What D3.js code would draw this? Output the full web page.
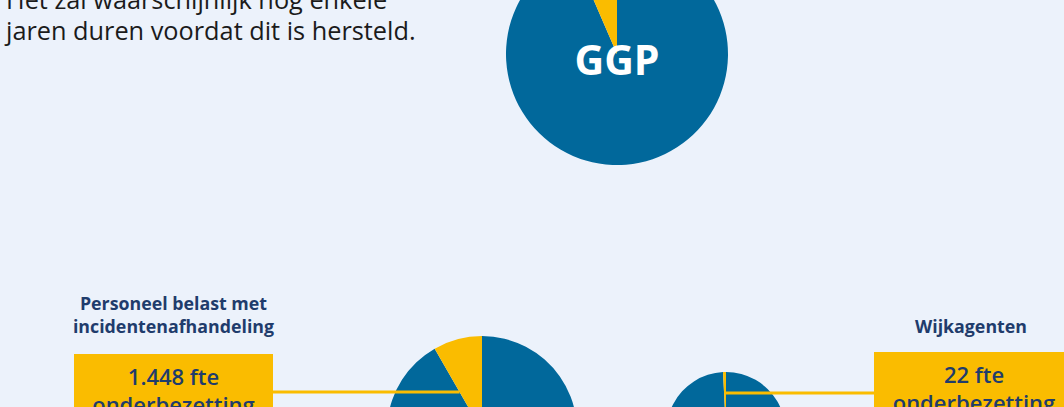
<!DOCTYPE html>
<html lang="nl">
<head>
  <meta charset="UTF-8">
  <title>Onderbezetting GGP</title>
  <style>
    html, body {
      margin: 0;
      background-color: #ecf2fb;
    }
    svg {
      display: block;
      font-family: 'Open Sans', 'Noto Sans', sans-serif;
    }
    .intro {
      font-size: 25.3px;
      fill: #1b1b1b;
    }
    .label {
      font-size: 17.8px;
      font-weight: 700;
      fill: #1f3c6c;
    }
    .box-text {
      font-size: 22px;
      font-weight: 600;
      fill: #1f3c6c;
    }
  </style>
</head>
<body>
  <script src="https://cdnjs.cloudflare.com/ajax/libs/d3/7.8.5/d3.min.js"></script>
  <script>
    // data
    const introLines = ['Het zal waarschijnlijk nog enkele', 'jaren duren voordat dit is hersteld.'];
    const pieNames = ['GGP', 'Personeel belast met incidentenafhandeling', 'Wijkagenten'];
    const bezetting = [93.5, 91.7, 99.2];      // % bezet
    const onderbezetting = [6.5, 8.3, 0.8];    // % onderbezet
    const labelLines = [[], ['Personeel belast met', 'incidentenafhandeling'], ['Wijkagenten']];
    const boxLines = [[], ['1.448 fte', 'onderbezetting'], ['22 fte', 'onderbezetting']];

    const width = 1064;
    const height = 407;
    const blue = '#01689b';
    const yellow = '#fabc00';

    // layout per pie (position / size only)
    const layout = [
      {cx: 617, cy: 54, r: 111},
      {cx: 482, cy: 431, r: 95, box: {x: 74, y: 354, w: 199, h: 90}, label: {x: 173.5, y: 310}, link: {y: 392}},
      {cx: 726, cy: 431.5, r: 59.5, box: {x: 874, y: 352, w: 200, h: 90}, label: {x: 971, y: 333}, link: {y: 393}}
    ];

    const svg = d3.select('body').append('svg')
      .attr('width', width)
      .attr('height', height);

    svg.append('rect')
      .attr('width', width)
      .attr('height', height)
      .attr('fill', '#ecf2fb');

    // intro text
    svg.append('text')
      .attr('class', 'intro')
      .selectAll('tspan')
      .data(introLines)
      .join('tspan')
      .attr('x', 6)
      .attr('y', (d, i) => 9 + i * 31)
      .text(d => d);

    const pie = d3.pie().sort(null).value(d => d.value);

    pieNames.forEach((name, i) => {
      const l = layout[i];
      const slices = [
        {key: 'bezet', value: bezetting[i], color: blue},
        {key: 'onder', value: onderbezetting[i], color: yellow}
      ];
      const arcs = pie(slices);
      const arc = d3.arc().innerRadius(0).outerRadius(l.r);
      const g = svg.append('g').attr('transform', `translate(${l.cx},${l.cy})`);

      g.selectAll('path')
        .data(arcs)
        .join('path')
        .attr('d', arc)
        .attr('fill', d => d.data.color);

      if (i === 0) {
        g.append('text')
          .attr('text-anchor', 'middle')
          .attr('y', 21)
          .attr('fill', '#fff')
          .attr('font-size', 41)
          .attr('font-weight', 700)
          .text(name);
        return;
      }

      // connector from box to the onderbezetting slice edge
      const yellowArc = arcs[1];
      const dy = l.link.y - l.cy;
      const a = yellowArc.startAngle;
      // point on the slice boundary line (angle a) at the link height
      const edgeX = l.cx + dy * Math.tan(a) * -1;
      const boxEdge = l.box.x > l.cx ? l.box.x : l.box.x + l.box.w;
      svg.append('line')
        .attr('x1', boxEdge)
        .attr('x2', i === 2 ? l.cx - 1 : edgeX)
        .attr('y1', l.link.y)
        .attr('y2', l.link.y)
        .attr('stroke', yellow)
        .attr('stroke-width', 3);

      svg.append('rect')
        .attr('x', l.box.x)
        .attr('y', l.box.y)
        .attr('width', l.box.w)
        .attr('height', l.box.h)
        .attr('fill', yellow);

      svg.append('text')
        .attr('class', 'box-text')
        .attr('text-anchor', 'middle')
        .selectAll('tspan')
        .data(boxLines[i])
        .join('tspan')
        .attr('x', l.box.x + l.box.w / 2)
        .attr('y', (d, j) => l.box.y + 31 + j * 28)
        .text(d => d);

      svg.append('text')
        .attr('class', 'label')
        .attr('text-anchor', 'middle')
        .selectAll('tspan')
        .data(labelLines[i])
        .join('tspan')
        .attr('x', l.label.x)
        .attr('y', (d, j) => l.label.y + j * 23)
        .text(d => d);
    });
  </script>
</body>
</html>
